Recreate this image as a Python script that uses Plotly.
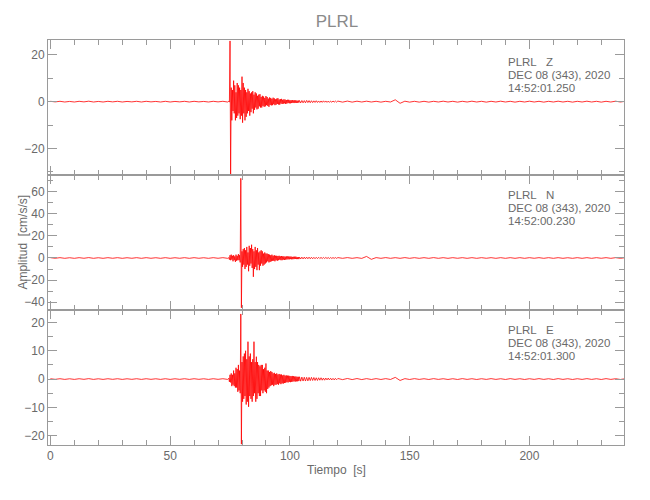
import plotly.graph_objects as go
from plotly.subplots import make_subplots

# ---------------- data ----------------
station = "PLRL"
channels = ["Z", "N", "E"]
start_times = ["14:52:01.250", "14:52:00.230", "14:52:01.300"]
date_label = "DEC 08 (343), 2020"

# sample time layout per segment: (start, step)
pre_seg = (0.0, 2.0)
event_seg = (74.5, 0.25)
tail_seg = (104.5, 0.5)
post_seg = (120.0, 2.0)

z_pre = [0.15,-0.1,0.15,-0.15,0.1,-0.15,0.15,-0.1,0.2,-0.15,0.1,-0.15,0.15,-0.1,0.15,-0.15,0.1,-0.1,0.15,
         -0.15,0.15,-0.1,0.1,-0.15,0.15,-0.15,0.1,-0.1,0.15,-0.15,0.15,-0.1,0.1,-0.15,0.15,-0.1,0.15,-0.15]
z_event = [0.2, -0.2, 26, -31,   6, -8, 5, -4,   9, -5, 7, -8,   4, -7, 8, -6,
           7, -5, 6, -7.5,   5, -6, 10.7, -9,   8, -5, 6, -8,   5, -6.5, 4, -5,
           5.5, -4, 4.5, -6,   3.5, -4.5, 4, -3,   4.5, -5, 3, -3.5,   4, -2.5, 3.5, -3.3,
           2.5, -3, 3, -2,   3.2, -2.5, 2, -2.5,   2.5, -1.8, 2.2, -2.2,   1.6, -2, 2.4, -1.5,
           2, -1.8, 1.3, -2.2,   1.8, -1.4, 1.6, -1.6,   1.2, -1.5, 1.7, -1.1,   1.4, -1.5, 1, -1.3,
           1.3, -1.0, 1.5, -1.2,   0.9, -1.3, 1.1, -0.8,   1.2, -1.0, 0.8, -0.9,   1.0, -0.7, 0.9, -1.0,
           0.7, -0.8, 0.8, -0.6,   0.8, -0.7, 0.6, -0.7,   0.6, -0.6, 0.7, -0.5,   0.5, -0.6, 0.6, -0.5,
           0.6, -0.5, 0.4, -0.5,   0.5, -0.4, 0.5]
z_tail = [-0.55,0.5,-0.5,0.45,-0.5,0.55,-0.4,0.45,-0.45,0.4,
          -0.4,0.35,-0.35,0.4,-0.35,0.3,-0.35,0.3,-0.3,0.35,
          -0.25,0.3,-0.3,0.25,-0.3,0.25,-0.25,0.3,-0.2,0.25,-0.2]
z_post = [0.25,-0.2,0.25,-0.2,0.2,-0.15,0.2,-0.15,0.15,-0.2,0.15,-0.15,0.8,
          -0.7,0.2,-0.2,0.15,-0.2,0.15,-0.2,0.15,-0.15,0.2,
          -0.15,0.15,-0.2,0.15,-0.15,0.2,-0.15,0.15,-0.2,0.15,
          -0.15,0.2,-0.15,0.15,-0.2,0.15,-0.15,0.2,-0.15,0.15,
          -0.2,0.15,-0.15,0.2,-0.15,0.15,-0.2,0.15,-0.15,0.2,
          -0.15,0.15,-0.2,0.15,-0.15,0.2,-0.15,0.15]

n_pre = [0.3,-0.25,0.3,-0.3,0.25,-0.3,0.3,-0.25,0.35,-0.3,0.25,-0.3,0.3,-0.25,0.3,-0.3,0.25,-0.25,0.3,
         -0.3,0.3,-0.25,0.25,-0.3,0.3,-0.3,0.25,-0.25,0.3,-0.3,0.3,-0.25,0.25,-0.3,0.3,-0.25,0.3,-0.3]
n_event = [0.3, -1.5, 2.5, -2,   3, -1.5, 2, -3,   2.5, -2, 1.5, -3.5,   3, -2.5, 2, -2,
           3.5, -2, 2.5, -4,   72, -45, 6, -8,   8, -6, 9, -10,   7, -8, 10, -6,
           5, -12, 11, -7,   9, -5, 12, -9,   8, -17, 6, -10,   10, -8, 7, -11,
           9, -6, 5, -11,   6, -7, 7, -5,   6, -7, 4, -6,   5, -5, 4, -4,
           4, -3, 3.5, -4,   3, -3.5, 2.5, -3,   3, -2.5, 2, -2.5,   2.5, -3, 2, -2,
           2, -2.5, 1.8, -2,   2, -1.5, 1.5, -2,   1.8, -2, 1.5, -1.5,   1.5, -1.8, 1.2, -1.5,
           1.5, -1.3, 1.4, -1.2,   1.4, -1.2, 1.3, -1.0,   1.3, -1.2, 1.0, -1.1,   1.1, -1, 1.2, -0.9,
           1.2, -1, 0.8, -1,   0.9, -1, 0.8]
n_tail = [-0.9,0.8,-0.85,0.8,-0.75,0.8,-0.7,0.75,-0.7,0.65,
          -0.7,0.6,-0.65,0.6,-0.55,0.6,-0.5,0.55,-0.5,0.5,
          -0.45,0.5,-0.45,0.4,-0.45,0.4,-0.4,0.4,-0.35,0.4,-0.35]
n_post = [0.35,-0.3,0.35,-0.3,0.3,-0.35,1.4,-1.2,0.35,-0.3,
          0.35,-0.3,0.3,-0.3,0.35,-0.3,0.3,-0.3,0.3,-0.3,
          0.35,-0.3,0.3,-0.3,0.3,-0.25,0.3,-0.3,0.3,-0.3,
          0.3,-0.25,0.3,-0.3,0.3,-0.3,0.3,-0.3,0.3,-0.3,
          0.3,-0.25,0.3,-0.3,0.3,-0.3,0.3,-0.3,0.25,-0.3,
          0.3,-0.3,0.3,-0.3,0.3,-0.25,0.3,-0.3,0.3,-0.3,0.3]

e_pre = [0.12,-0.1,0.12,-0.12,0.1,-0.12,0.12,-0.1,0.15,-0.12,0.1,-0.12,0.12,-0.1,0.12,-0.12,0.1,-0.1,0.12,
         -0.12,0.12,-0.1,0.1,-0.12,0.12,-0.12,0.1,-0.1,0.12,-0.12,0.12,-0.1,0.1,-0.12,0.12,-0.1,0.12,-0.12]
e_event = [0.3, -1.0, 1.5, -1.2,   2, -2.5, 1.5, -2,   3, -2.5, 2, -3,   4, -3, 3.5, -4.5,
           5, -4, 3, -5,   23, -23, 6, -8,   8, -7, 9, -6,   10, -9, 7, -8,
           13.2, -9.8, 8, -6,   9, -7, 6, -8,   7, -6, 13.2, -5,   6, -8, 7.9, -7,
           6, -5, 5, -6,   4.5, -6, 5, -4,   5, -5, 3.5, -4,   4, -4.5, 5.5, -5,
           3, -3.5, 3, -3,   2.5, -2.5, 2.8, -2.2,   2.5, -2, 2, -2.5,   2.2, -2, 1.8, -2,
           2, -1.8, 1.6, -2,   1.8, -1.5, 1.6, -1.8,   1.6, -1.5, 1.3, -1.6,   1.5, -1.4, 1.2, -1.3,
           1.3, -1.1, 1.2, -1.2,   1.2, -1.0, 1.1, -1.1,   1.0, -1.0, 1.1, -0.9,   1.0, -0.8, 0.9, -0.9,
           0.9, -0.8, 0.8, -0.8,   0.8, -0.7, 0.8]
e_tail = [-0.75,0.7,-0.7,0.65,-0.7,0.6,-0.65,0.6,-0.55,0.6,
          -0.5,0.55,-0.5,0.45,-0.5,0.45,-0.4,0.45,-0.4,0.35,
          -0.4,0.35,-0.3,0.35,-0.3,0.3,-0.3,0.25,-0.3,0.25,-0.25]
e_post = [0.2,-0.2,0.2,-0.18,0.18,-0.18,0.15,-0.15,0.15,-0.15,0.15,-0.15,0.6,-0.5,
          0.15,-0.15,0.15,-0.12,0.12,-0.15,0.15,-0.12,0.12,-0.15,
          0.12,-0.15,0.15,-0.12,0.12,-0.15,0.12,-0.12,0.15,-0.12,
          0.12,-0.15,0.15,-0.12,0.12,-0.15,0.12,-0.12,0.15,-0.12,
          0.12,-0.15,0.15,-0.12,0.12,-0.15,0.12,-0.12,0.15,-0.12,
          0.12,-0.15,0.15,-0.12,0.12,-0.15,0.12]

y_ranges = [[-31.4, 26.4], [-47.0, 75.0], [-23.3, 24.4]]
y_dticks = [20, 20, 10]
y_minor = [10, 10, 5]

# ---------------- build traces ----------------
def seg_times(seg, n):
    s, d = seg
    return [s + d * i for i in range(n)]

def assemble(pre, ev, tail, post):
    t = (seg_times(pre_seg, len(pre)) + seg_times(event_seg, len(ev))
         + seg_times(tail_seg, len(tail)) + seg_times(post_seg, len(post)))
    return t, pre + ev + tail + post

series = [assemble(z_pre, z_event, z_tail, z_post),
          assemble(n_pre, n_event, n_tail, n_post),
          assemble(e_pre, e_event, e_tail, e_post)]

FONT = "Liberation Sans, Arial, sans-serif"
GRAY = "#9a9a9a"
TXT = "#6a6a6a"

fig = make_subplots(rows=3, cols=1, shared_xaxes=True, vertical_spacing=0)

for i, (t, v) in enumerate(series):
    fig.add_trace(go.Scatter(x=t, y=v, mode="lines",
                             line=dict(color="#ff0000", width=0.8),
                             showlegend=False, hoverinfo="skip"),
                  row=i + 1, col=1)
    fig.update_yaxes(range=y_ranges[i], dtick=y_dticks[i], tick0=0, automargin=False,
                     ticks="inside", ticklen=9, tickcolor=GRAY, mirror="ticks",
                     showline=True, linecolor=GRAY, linewidth=1,
                     showgrid=False, zeroline=False,
                     minor=dict(dtick=y_minor[i], tick0=0, ticks="inside", ticklen=5,
                                tickcolor=GRAY, showgrid=False),
                     tickfont=dict(family=FONT, size=12, color=TXT),
                     row=i + 1, col=1)
    fig.update_xaxes(range=[-1, 239.5], dtick=50, tick0=0, automargin=False,
                     ticks="inside", ticklen=9, tickcolor=GRAY, mirror="ticks",
                     showline=True, linecolor=GRAY, linewidth=1,
                     showgrid=False, zeroline=False,
                     minor=dict(dtick=10, tick0=0, ticks="inside", ticklen=5,
                                tickcolor=GRAY, showgrid=False),
                     tickfont=dict(family=FONT, size=12, color=TXT),
                     row=i + 1, col=1)

# text annotations for each channel
ann_y = [[0.946, 0.914, 0.882], [0.617, 0.585, 0.553], [0.284, 0.252, 0.220]]
annotations = []
for i, ch in enumerate(channels):
    lines = [f"{station}   {ch}", date_label, start_times[i]]
    for j, txt in enumerate(lines):
        annotations.append(dict(x=0.795, y=ann_y[i][j], xref="paper", yref="paper",
                                xanchor="left", yanchor="middle", showarrow=False,
                                text=txt, font=dict(family=FONT, size=11.5, color=TXT)))

annotations.append(dict(x=-0.045, y=0.5, xref="paper", yref="paper", textangle=-90,
                        xanchor="center", yanchor="middle", showarrow=False,
                        text="Amplitud  [cm/s/s]", font=dict(family=FONT, size=12, color=TXT)))
annotations.append(dict(x=0.5, y=-0.062, xref="paper", yref="paper",
                        xanchor="center", yanchor="middle", showarrow=False,
                        text="Tiempo  [s]", font=dict(family=FONT, size=12, color=TXT)))

# page has an 8px body margin, so margins are shifted accordingly
fig.update_layout(
    width=650, height=500,
    margin=dict(l=40, r=34, t=32, b=63),
    paper_bgcolor="white", plot_bgcolor="white",
    title=dict(text=station, x=0.506, xanchor="center", y=0.973, yanchor="middle",
               font=dict(family=FONT, size=17, color="#8a8a8a")),
    annotations=annotations,
)

fig.write_html("out.html")
